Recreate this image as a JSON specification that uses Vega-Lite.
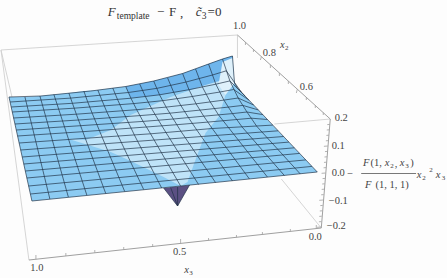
{"$schema":"https://vega.github.io/schema/vega-lite/v6.json","width":447,"height":278,"autosize":{"type":"fit","contains":"padding"},"padding":0,"background":"#fdfdfd","view":{"stroke":null},
"datasets":{
"spike":[{"n":0,"u":163,"v":188},{"n":1,"u":177,"v":206},{"n":2,"u":189,"v":185}],
"main":[{"n":0,"u":8,"v":97},{"n":1,"u":24,"v":97},{"n":2,"u":39,"v":96},{"n":3,"u":53,"v":94.5},{"n":4,"u":68,"v":93},{"n":5,"u":83,"v":91},{"n":6,"u":97,"v":90},{"n":7,"u":112,"v":88},{"n":8,"u":125,"v":86.5},{"n":9,"u":139,"v":84},{"n":10,"u":153,"v":81},{"n":11,"u":167,"v":78},{"n":12,"u":182,"v":73.5},{"n":13,"u":195,"v":69},{"n":14,"u":208,"v":64},{"n":15,"u":222,"v":59},{"n":16,"u":232,"v":56},{"n":17,"u":234,"v":83},{"n":18,"u":237,"v":88},{"n":19,"u":253,"v":105},{"n":20,"u":272,"v":125},{"n":21,"u":317,"v":172},{"n":22,"u":180,"v":186},{"n":23,"u":31,"v":201}],
"ridge":[{"n":0,"u":125,"v":86.5},{"n":1,"u":153,"v":81},{"n":2,"u":182,"v":73.5},{"n":3,"u":208,"v":64},{"n":4,"u":222,"v":59},{"n":5,"u":232,"v":56},{"n":6,"u":229,"v":81},{"n":7,"u":215,"v":84},{"n":8,"u":188,"v":90},{"n":9,"u":159,"v":95},{"n":10,"u":130,"v":98}],
"light":[{"n":0,"u":68,"v":139},{"n":1,"u":110,"v":152},{"n":2,"u":130,"v":161},{"n":3,"u":163,"v":177},{"n":4,"u":180,"v":186},{"n":5,"u":187,"v":182},{"n":6,"u":193,"v":165},{"n":7,"u":205,"v":133},{"n":8,"u":218,"v":117},{"n":9,"u":225,"v":95},{"n":10,"u":222,"v":80},{"n":11,"u":205,"v":85},{"n":12,"u":170,"v":97},{"n":13,"u":130,"v":115},{"n":14,"u":110,"v":130},{"n":15,"u":85,"v":140}],
"peak":[{"n":0,"u":222,"v":62},{"n":1,"u":232,"v":58},{"n":2,"u":234,"v":83},{"n":3,"u":225,"v":95},{"n":4,"u":218,"v":85}],
"grid":[
{"l":"a0","n":0,"u":8,"v":97},{"l":"a0","n":1,"u":31,"v":201},
{"l":"a1","n":0,"u":24,"v":97},{"l":"a1","n":1,"u":49,"v":199},
{"l":"a2","n":0,"u":39,"v":96},{"l":"a2","n":1,"u":67.5,"v":197},
{"l":"a3","n":0,"u":53,"v":94.5},{"l":"a3","n":1,"u":86,"v":195},
{"l":"a4","n":0,"u":68,"v":93},{"l":"a4","n":1,"u":71.6,"v":103.3},{"l":"a4","n":2,"u":75.5,"v":114.2},{"l":"a4","n":3,"u":105,"v":193.5},
{"l":"a5","n":0,"u":83,"v":91},{"l":"a5","n":1,"u":86.9,"v":101.9},{"l":"a5","n":2,"u":91.3,"v":113},{"l":"a5","n":3,"u":124,"v":191.5},
{"l":"a6","n":0,"u":97,"v":90},{"l":"a6","n":1,"u":101.4,"v":100.9},{"l":"a6","n":2,"u":106.3,"v":112.4},{"l":"a6","n":3,"u":143,"v":189.5},
{"l":"a7","n":0,"u":112,"v":88},{"l":"a7","n":1,"u":116.7,"v":99.3},{"l":"a7","n":2,"u":122,"v":110.8},{"l":"a7","n":3,"u":133.7,"v":135},{"l":"a7","n":4,"u":161,"v":188},
{"l":"a8","n":0,"u":125,"v":86.5},{"l":"a8","n":1,"u":130.2,"v":98.2},{"l":"a8","n":2,"u":136,"v":109.7},{"l":"a8","n":3,"u":142.4,"v":121.4},{"l":"a8","n":4,"u":149.9,"v":133.8},{"l":"a8","n":5,"u":180,"v":186},
{"l":"a9","n":0,"u":139,"v":84},{"l":"a9","n":1,"u":144.7,"v":96.6},{"l":"a9","n":2,"u":150.9,"v":108.5},{"l":"a9","n":3,"u":157.8,"v":120.2},{"l":"a9","n":4,"u":165.5,"v":132.8},{"l":"a9","n":5,"u":198,"v":184.5},
{"l":"a10","n":0,"u":153,"v":81},{"l":"a10","n":1,"u":158.9,"v":94.8},{"l":"a10","n":2,"u":165.5,"v":107.1},{"l":"a10","n":3,"u":172.7,"v":119},{"l":"a10","n":4,"u":180.5,"v":131.6},{"l":"a10","n":5,"u":215,"v":182.5},
{"l":"a11","n":0,"u":167,"v":78},{"l":"a11","n":1,"u":173.2,"v":92.6},{"l":"a11","n":2,"u":180.3,"v":105.6},{"l":"a11","n":3,"u":188,"v":117.8},{"l":"a11","n":4,"u":196.7,"v":130.7},{"l":"a11","n":5,"u":232,"v":181},
{"l":"a12","n":0,"u":182,"v":73.5},{"l":"a12","n":1,"u":188.4,"v":89.7},{"l":"a12","n":2,"u":195.5,"v":103.8},{"l":"a12","n":3,"u":203.2,"v":116.2},{"l":"a12","n":4,"u":211.7,"v":128.5},{"l":"a12","n":5,"u":249,"v":179},
{"l":"a13","n":0,"u":195,"v":69},{"l":"a13","n":1,"u":201.9,"v":87.1},{"l":"a13","n":2,"u":209.7,"v":101.9},{"l":"a13","n":3,"u":218,"v":114.9},{"l":"a13","n":4,"u":227.8,"v":127.3},{"l":"a13","n":5,"u":267,"v":177},
{"l":"a14","n":0,"u":208,"v":64},{"l":"a14","n":1,"u":215.3,"v":84.2},{"l":"a14","n":2,"u":223.4,"v":100.1},{"l":"a14","n":3,"u":232,"v":113.6},{"l":"a14","n":4,"u":241.8,"v":127.2},{"l":"a14","n":5,"u":284,"v":175.5},
{"l":"a15","n":0,"u":222,"v":59},{"l":"a15","n":1,"u":229.4,"v":80.9},{"l":"a15","n":2,"u":237.7,"v":98},{"l":"a15","n":3,"u":246.5,"v":112},{"l":"a15","n":4,"u":256.4,"v":126.4},{"l":"a15","n":5,"u":300,"v":174},
{"l":"a16","n":0,"u":232,"v":56},{"l":"a16","n":1,"u":234,"v":83},{"l":"a16","n":2,"u":237,"v":88},{"l":"a16","n":3,"u":253.2,"v":105},{"l":"a16","n":4,"u":272.4,"v":125.1},{"l":"a16","n":5,"u":317,"v":172},
{"l":"b0","n":0,"u":8,"v":97},{"l":"b0","n":1,"u":40,"v":96},{"l":"b0","n":2,"u":90,"v":91},{"l":"b0","n":3,"u":125,"v":86.5},{"l":"b0","n":4,"u":153,"v":81},{"l":"b0","n":5,"u":182,"v":73.5},{"l":"b0","n":6,"u":208,"v":64},{"l":"b0","n":7,"u":222,"v":59},{"l":"b0","n":8,"u":232,"v":56},
{"l":"b1","n":0,"u":9.1,"v":102},{"l":"b1","n":1,"u":69.8,"v":98.1},{"l":"b1","n":2,"u":127.6,"v":92.5},{"l":"b1","n":3,"u":156,"v":88.4},{"l":"b1","n":4,"u":185.2,"v":82.1},{"l":"b1","n":5,"u":211.6,"v":75.1},{"l":"b1","n":6,"u":225.8,"v":70.8},{"l":"b1","n":7,"u":240.8,"v":92},
{"l":"b2","n":0,"u":10.2,"v":107},{"l":"b2","n":1,"u":71.6,"v":103.3},{"l":"b2","n":2,"u":130.2,"v":98.2},{"l":"b2","n":3,"u":158.9,"v":94.8},{"l":"b2","n":4,"u":188.4,"v":89.7},{"l":"b2","n":5,"u":215.3,"v":84.2},{"l":"b2","n":6,"u":229.4,"v":80.9},{"l":"b2","n":7,"u":244.7,"v":96.1},
{"l":"b3","n":0,"u":11.3,"v":112},{"l":"b3","n":1,"u":73.3,"v":108.2},{"l":"b3","n":2,"u":132.8,"v":103.6},{"l":"b3","n":3,"u":161.9,"v":100.7},{"l":"b3","n":4,"u":191.6,"v":96.5},{"l":"b3","n":5,"u":218.9,"v":92.1},{"l":"b3","n":6,"u":233.2,"v":89.5},{"l":"b3","n":7,"u":248.5,"v":100.1},
{"l":"b4","n":0,"u":12.6,"v":118},{"l":"b4","n":1,"u":75.5,"v":114.2},{"l":"b4","n":2,"u":136,"v":109.7},{"l":"b4","n":3,"u":165.5,"v":107.1},{"l":"b4","n":4,"u":195.5,"v":103.8},{"l":"b4","n":5,"u":223.4,"v":100.1},{"l":"b4","n":6,"u":237.7,"v":98},{"l":"b4","n":7,"u":253.2,"v":105},
{"l":"b5","n":0,"u":14,"v":124},{"l":"b5","n":1,"u":77.6,"v":120},{"l":"b5","n":2,"u":139.3,"v":115.6},{"l":"b5","n":3,"u":169.1,"v":113.2},{"l":"b5","n":4,"u":199.4,"v":110.1},{"l":"b5","n":5,"u":227.8,"v":107.1},{"l":"b5","n":6,"u":242.3,"v":105.4},{"l":"b5","n":7,"u":257.8,"v":109.9},
{"l":"b6","n":0,"u":15.3,"v":130},{"l":"b6","n":1,"u":79.7,"v":125.7},{"l":"b6","n":2,"u":142.4,"v":121.4},{"l":"b6","n":3,"u":172.7,"v":119},{"l":"b6","n":4,"u":203.2,"v":116.2},{"l":"b6","n":5,"u":232,"v":113.6},{"l":"b6","n":6,"u":246.5,"v":112},{"l":"b6","n":7,"u":262.4,"v":114.6},
{"l":"b7","n":0,"u":16.6,"v":136},{"l":"b7","n":1,"u":81.9,"v":131.7},{"l":"b7","n":2,"u":145.6,"v":127},{"l":"b7","n":3,"u":176.3,"v":124.7},{"l":"b7","n":4,"u":207.1,"v":122.1},{"l":"b7","n":5,"u":236.5,"v":119.5},{"l":"b7","n":6,"u":251,"v":118.2},{"l":"b7","n":7,"u":267,"v":119.5},
{"l":"b8","n":0,"u":18.2,"v":143},{"l":"b8","n":1,"u":84.4,"v":138.3},{"l":"b8","n":2,"u":149.9,"v":133.8},{"l":"b8","n":3,"u":211.7,"v":128.5},{"l":"b8","n":4,"u":272.4,"v":125.1},
{"l":"b9","n":0,"u":19.7,"v":150},{"l":"b9","n":1,"u":153,"v":140.1},{"l":"b9","n":2,"u":277.8,"v":130.8},
{"l":"b10","n":0,"u":21.3,"v":157},{"l":"b10","n":1,"u":156.7,"v":146.4},{"l":"b10","n":2,"u":283.2,"v":136.5},
{"l":"b11","n":0,"u":22.8,"v":164},{"l":"b11","n":1,"u":160.4,"v":152.7},{"l":"b11","n":2,"u":288.5,"v":142.1},
{"l":"b12","n":0,"u":24.4,"v":171},{"l":"b12","n":1,"u":164.2,"v":159},{"l":"b12","n":2,"u":294,"v":147.8},
{"l":"b13","n":0,"u":25.9,"v":178},{"l":"b13","n":1,"u":167.8,"v":165.3},{"l":"b13","n":2,"u":299.3,"v":153.4},
{"l":"b14","n":0,"u":27.7,"v":186},{"l":"b14","n":1,"u":172.5,"v":172.5},{"l":"b14","n":2,"u":305.5,"v":159.9},
{"l":"b15","n":0,"u":29.5,"v":194},{"l":"b15","n":1,"u":176.3,"v":179.7},{"l":"b15","n":2,"u":311.6,"v":166.4},
{"l":"b16","n":0,"u":31,"v":201},{"l":"b16","n":1,"u":180,"v":186},{"l":"b16","n":2,"u":317,"v":172},
{"l":"s1","n":0,"u":163,"v":188},{"l":"s1","n":1,"u":177,"v":206},{"l":"s1","n":2,"u":189,"v":185},
{"l":"s2","n":0,"u":177,"v":187},{"l":"s2","n":1,"u":177,"v":206},
{"l":"s3","n":0,"u":170,"v":187.5},{"l":"s3","n":1,"u":177,"v":206}
],
"frame":[{"u":0,"v":50,"u2":237,"v2":35},{"u":0,"v":50,"u2":11,"v2":97},{"u":0,"v":50,"u2":28,"v2":260},{"u":237,"v":35,"u2":237,"v2":58},{"u":330,"v":119,"u2":274,"v2":124},{"u":321,"v":228,"u2":281,"v2":179}],
"axes":[{"u":28,"v":260,"u2":321,"v2":228},{"u":237,"v":35,"u2":330,"v2":119},{"u":321,"v":228,"u2":330,"v2":119}],
"ticks":[{"u":35,"v":259.2,"u2":35,"v2":255},{"u":65,"v":256,"u2":65,"v2":253},{"u":94,"v":252.8,"u2":94,"v2":250},{"u":123,"v":249.6,"u2":123,"v2":247},{"u":152,"v":246.5,"u2":152,"v2":244},{"u":180,"v":243.4,"u2":180,"v2":239},{"u":208,"v":240.4,"u2":208,"v2":238},{"u":236,"v":237.3,"u2":236,"v2":235},{"u":262,"v":234.5,"u2":262,"v2":232},{"u":290,"v":231.4,"u2":290,"v2":229},{"u":316,"v":228.6,"u2":316,"v2":225},
{"u":320.6,"v":227,"u2":316.6,"v2":227.3},{"u":321.1,"v":221.6,"u2":318.6,"v2":221.8},{"u":321.5,"v":216.2,"u2":319,"v2":216.4},{"u":322,"v":210.8,"u2":319.5,"v2":211},{"u":322.5,"v":205.4,"u2":320,"v2":205.6},{"u":323,"v":200,"u2":319,"v2":200.3},{"u":323.4,"v":194.6,"u2":320.9,"v2":194.8},{"u":323.9,"v":189.2,"u2":321.4,"v2":189.4},{"u":324.4,"v":183.8,"u2":321.9,"v2":184},{"u":324.8,"v":178.4,"u2":322.3,"v2":178.6},{"u":325.3,"v":173,"u2":321.3,"v2":173.3},{"u":325.8,"v":167.6,"u2":323.3,"v2":167.8},{"u":326.2,"v":162.2,"u2":323.7,"v2":162.4},{"u":326.7,"v":156.8,"u2":324.2,"v2":157},{"u":327.2,"v":151.4,"u2":324.7,"v2":151.6},{"u":327.6,"v":146,"u2":323.6,"v2":146.3},{"u":328.1,"v":140.6,"u2":325.6,"v2":140.8},{"u":328.6,"v":135.2,"u2":326.1,"v2":135.4},{"u":329,"v":129.8,"u2":326.5,"v2":130},{"u":329.5,"v":124.4,"u2":327,"v2":124.6},
{"u":245,"v":42,"u2":245,"v2":45},{"u":253,"v":49.5,"u2":253,"v2":52},{"u":261,"v":56.7,"u2":260,"v2":60},{"u":270,"v":64.8,"u2":270,"v2":68},{"u":279,"v":73,"u2":279,"v2":76},{"u":288,"v":81,"u2":288,"v2":84},{"u":297,"v":89.2,"u2":296,"v2":93},{"u":306,"v":97.3,"u2":306,"v2":100},{"u":315,"v":105.4,"u2":315,"v2":108},{"u":323,"v":112.7,"u2":323,"v2":115}],
"num":[{"t":"1.0","u":239,"v":26},{"t":"0.8","u":269,"v":53},{"t":"0.6","u":306,"v":87},{"t":"0.2","u":341,"v":118},{"t":"0.1","u":338,"v":146},{"t":"0.0","u":338,"v":173},{"t":"−0.1","u":338,"v":200.7},{"t":"−0.2","u":336,"v":226},{"t":"1.0","u":36,"v":268},{"t":"0.5","u":179,"v":252},{"t":"0.0","u":315,"v":237},{"t":"−","u":350,"v":174},{"t":"(1,","u":376,"v":163},{"t":",","u":396,"v":164},{"t":")","u":412,"v":163},{"t":"(1, 1, 1)","u":392,"v":185}],
"ital":[{"t":"x","u":282,"v":45},{"t":"x","u":186,"v":270},{"t":"F","u":366,"v":163},{"t":"x","u":387,"v":163},{"t":"x","u":402,"v":163},{"t":"F","u":368,"v":185},{"t":"x","u":419,"v":175},{"t":"x","u":438,"v":175}],
"sub":[{"t":"2","u":286.5,"v":48},{"t":"3","u":190.5,"v":273},{"t":"2","u":392,"v":165.5},{"t":"3","u":407,"v":165.5},{"t":"2","u":424,"v":178},{"t":"2","u":431,"v":170},{"t":"3","u":443.5,"v":178}],
"bar":[{"u":361,"v":173.5,"u2":416,"v2":173.5}],
"titR":[{"t":"−","u":160,"v":12},{"t":"F","u":172,"v":12},{"t":",","u":181,"v":13},{"t":"=0","u":214,"v":12}],
"titI":[{"t":"F","u":111,"v":12},{"t":"c̃","u":198,"v":12}],
"titS":[{"t":"template","u":132.5,"v":16},{"t":"3","u":203.5,"v":16}]
},
"encoding":{"x":{"field":"u","type":"quantitative","scale":{"domain":[0,447]},"axis":null},"y":{"field":"v","type":"quantitative","scale":{"domain":[278,0]},"axis":null}},
"layer":[
{"data":{"name":"frame"},"mark":{"type":"rule","stroke":"#d0d0d0","strokeWidth":0.9},"encoding":{"x2":{"field":"u2"},"y2":{"field":"v2"}}},
{"data":{"name":"axes"},"mark":{"type":"rule","stroke":"#a0a0a0","strokeWidth":1},"encoding":{"x2":{"field":"u2"},"y2":{"field":"v2"}}},
{"data":{"name":"ticks"},"mark":{"type":"rule","stroke":"#a0a0a0","strokeWidth":0.8},"encoding":{"x2":{"field":"u2"},"y2":{"field":"v2"}}},
{"data":{"name":"spike"},"mark":{"type":"line","fill":"#5b5083","strokeWidth":0,"interpolate":"linear"},"encoding":{"order":{"field":"n"}}},
{"data":{"name":"main"},"mark":{"type":"line","fill":"#8ccbf2","strokeWidth":0,"interpolate":"linear"},"encoding":{"order":{"field":"n"}}},
{"data":{"name":"ridge"},"mark":{"type":"line","fill":"#6eb5ec","strokeWidth":0,"interpolate":"linear"},"encoding":{"order":{"field":"n"}}},
{"data":{"name":"light"},"mark":{"type":"line","fill":"#bfe3f8","strokeWidth":0,"interpolate":"linear"},"encoding":{"order":{"field":"n"}}},
{"data":{"name":"peak"},"mark":{"type":"line","fill":"#dff1fb","strokeWidth":0,"interpolate":"linear"},"encoding":{"order":{"field":"n"}}},
{"data":{"name":"grid"},"mark":{"type":"line","stroke":"#1d2f44","strokeWidth":0.8,"opacity":0.85,"interpolate":"linear"},"encoding":{"detail":{"field":"l"},"order":{"field":"n"}}},
{"data":{"name":"bar"},"mark":{"type":"rule","stroke":"#555555","strokeWidth":0.8},"encoding":{"x2":{"field":"u2"},"y2":{"field":"v2"}}},
{"data":{"name":"num"},"mark":{"type":"text","font":"Liberation Serif","fontSize":10.5,"fill":"#444444"},"encoding":{"text":{"field":"t"}}},
{"data":{"name":"ital"},"mark":{"type":"text","font":"Liberation Serif","fontStyle":"italic","fontSize":10.5,"fill":"#444444"},"encoding":{"text":{"field":"t"}}},
{"data":{"name":"sub"},"mark":{"type":"text","font":"Liberation Serif","fontSize":7,"fill":"#444444"},"encoding":{"text":{"field":"t"}}},
{"data":{"name":"titR"},"mark":{"type":"text","font":"Liberation Serif","fontSize":13,"fill":"#333333"},"encoding":{"text":{"field":"t"}}},
{"data":{"name":"titI"},"mark":{"type":"text","font":"Liberation Serif","fontStyle":"italic","fontSize":13,"fill":"#333333"},"encoding":{"text":{"field":"t"}}},
{"data":{"name":"titS"},"mark":{"type":"text","font":"Liberation Serif","fontSize":9.5,"fill":"#333333"},"encoding":{"text":{"field":"t"}}}
]}
